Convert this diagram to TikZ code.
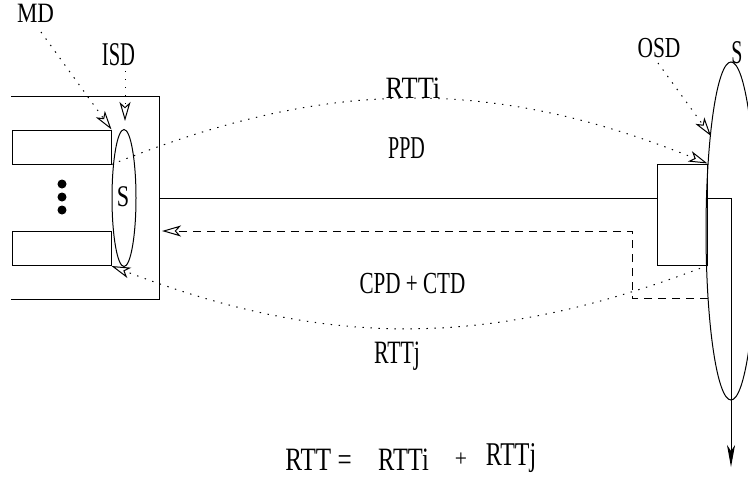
\documentclass[tikz,border=0pt]{standalone}
\usepackage{fontspec}
\setmainfont{Liberation Serif}
\usetikzlibrary{arrows.meta,shapes.geometric}

\newcommand\figfont[2]{\fontspec[FakeStretch=#2]{Liberation Serif}\fontsize{#1}{#1}\selectfont}

\tikzset{
    dotline/.style={dash pattern=on 0.7pt off 3.3pt},
    dashline/.style={dash pattern=on 4pt off 3pt},
    opentip/.style={-{Stealth[open,length=9.5pt,width=5.5pt,inset=2.5pt]}},
    txt/.style={anchor=base,inner sep=0pt}
}

\begin{document}
\begin{tikzpicture}[x=0.5pt,y=-0.5pt,line width=0.5pt]
    \useasboundingbox (0,0) rectangle (748,477);

    \coordinate (boxE) at (159,198);
    \coordinate (turn) at (731,198);
    \coordinate (sink) at (731,467);
    \coordinate (dashA) at (632,298);
    \coordinate (dashB) at (632,231);
    \coordinate (dashEnd) at (162,231);

    \draw (11,96) -| (159,299) -- (11,299);

    \node [anchor=center,rectangle,draw,inner sep=0pt,minimum width=49.5pt,
    minimum height=17pt] (mdA) at (61.5,147) {};

    \node [anchor=center,rectangle,draw,inner sep=0pt,minimum width=49.5pt,
    minimum height=17pt] (mdB) at (61.5,248.5) {};

    \node [anchor=center,circle,draw,fill,inner sep=1.4pt] (dotA) at (62,184) {};
    \node [anchor=center,circle,draw,fill,inner sep=1.4pt] (dotB) at (62,197) {};
    \node [anchor=center,circle,draw,fill,inner sep=1.4pt] (dotC) at (62,210) {};

    \node [anchor=center,ellipse,draw,inner sep=0pt,minimum width=12pt,
    minimum height=68.5pt] (isd) at (124,198) {};

    \node [anchor=center,rectangle,draw,inner sep=0pt,minimum width=25pt,
    minimum height=50.5pt] (port) at (682,214.5) {};

    \node [anchor=center,ellipse,draw,inner sep=0pt,minimum width=25pt,
    minimum height=169pt] (osd) at (731,231) {};

    \node [txt,font=\figfont{14}{0.82}] (mdL) at (35.5,22) {MD};
    \node [txt,font=\figfont{16.6}{0.62}] (isdL) at (118.5,65) {ISD};
    \node [txt,font=\figfont{14.5}{0.74}] (osdL) at (659,57) {OSD};
    \node [txt,font=\figfont{16.6}{0.6}] (sL) at (737,63) {S};
    \node [txt,font=\figfont{15}{0.74}] (isdS) at (123,206) {S};

    \node [txt,font=\figfont{15.5}{0.85}] (rttiL) at (413,98) {RTTi};
    \node [txt,font=\figfont{15.9}{0.63}] (ppdL) at (406.5,158) {PPD};
    \node [txt,font=\figfont{15.3}{0.69}] (cpdL) at (412.5,293) {CPD + CTD};
    \node [txt,font=\figfont{16.3}{0.67}] (rttjL) at (397,363) {RTTj};

    \node [txt,font=\figfont{16.3}{0.77}] (sumA) at (318.5,470) {RTT =};
    \node [txt,font=\figfont{16.3}{0.75}] (sumB) at (403.5,470) {RTTi};
    \node [txt,font=\figfont{12}{0.9}] (sumC) at (461,466) {+};
    \node [txt,font=\figfont{16.6}{0.72}] (sumD) at (511,465) {RTTj};

    \draw [dotline,opentip] (41,32) -- (mdA.north east);
    \draw [dotline,opentip] (125,63) -- (125,121);
    \draw [dotline,opentip] (658,63) -- (711,136);

    \draw [dotline,opentip] (mdA.south east) to[out=22,in=158] (port.north east);
    \draw [dotline,opentip] (port.south east) to[out=201,in=-21] (mdB.south east);

    \draw (boxE) -- (port.west |- boxE);
    \draw [-{Stealth[length=11pt,width=4pt,inset=3pt]}] (port.east |- turn) -- (turn) -- (sink);

    \draw [dashline,opentip] (708,298) -- (dashA) -- (dashB) -- (dashEnd);
  \end{tikzpicture}
\end{document}
